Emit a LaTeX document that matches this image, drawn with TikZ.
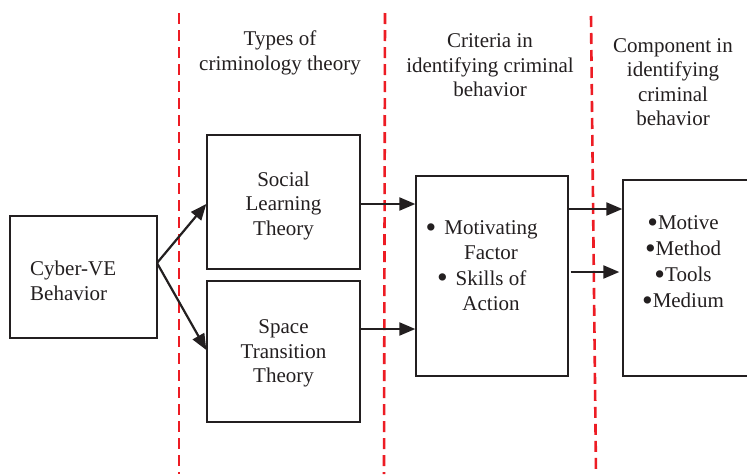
\documentclass[tikz,border=0pt]{standalone}
\usepackage{fontspec}
\setmainfont{Liberation Serif}
\usetikzlibrary{arrows.meta,calc}
\definecolor{redline}{RGB}{237,28,36}
\definecolor{ink}{RGB}{35,31,32}
\newcommand{\bigbul}{\raisebox{-2.6pt}{\scalebox{1.45}{•}}}
\begin{document}
\begin{tikzpicture}[x=1pt,y=-1pt,
  box/.style={draw=ink,line width=1.4pt,minimum width=#1,inner sep=0pt},
  txt/.style={align=center,inner sep=0pt,text=ink,font=\fontsize{21}{24.5}\selectfont},
  arr/.style={draw=ink,line width=2.2pt,-{Triangle[length=16pt,width=13pt]}},
  redd/.style={draw=redline,line width=2.6pt,dash pattern=on 11pt off 6pt}]
\clip (0,0) rectangle (747,474);
\fill[white] (0,0) rectangle (747,474);
% red dashed separators
\draw[redd] (179,13) -- (179,474);
\draw[redd] (385,13) -- (384,474);
\draw[redd] (591,16) -- (596,474);
% headers
\node[txt] (h1) at (280,53) {Types of\\criminology theory};
\node[txt] (h2) at (490,65.5) {Criteria in\\identifying criminal\\behavior};
\node[txt] (h3) at (673,82) {Component in\\identifying\\criminal\\behavior};
% boxes
\node[box=147pt,minimum height=122pt] (cyber) at (83.5,277) {};
\node[txt,align=left,anchor=west] (cybert) at (30,281) {Cyber-VE\\Behavior};
\node[box=153pt,minimum height=134pt] (social) at (283.5,202) {};
\node[txt] (socialt) at (283.5,205.5) {Social\\Learning\\Theory};
\node[box=153pt,minimum height=141pt] (space) at (283.5,351.5) {};
\node[txt] (spacet) at (283.5,353.5) {Space\\Transition\\Theory};
\node[box=152pt,minimum height=200pt] (crit) at (492,276) {};
\node[txt,font=\fontsize{21}{25.3}\selectfont] (critt) at (491,265.5) {\llap{\bigbul\hspace{8pt}}Motivating\\Factor\\\llap{\bigbul\hspace{8pt}}Skills of\\Action};
\node[box=140pt,minimum height=196pt] (comp) at (693,278) {};
\node[txt,font=\fontsize{21}{26}\selectfont] (compt) at (683,263) {\bigbul Motive\\\bigbul Method\\\bigbul Tools\\\bigbul Medium};
% connectors
\coordinate (fork) at (157,263);
\draw[arr] (fork) -- ([yshift=-2pt]social.west);
\draw[arr] (fork) -- ([yshift=1.5pt]space.west);
\draw[arr] ([yshift=-2pt]social.east) -- ([yshift=-2pt]social.east -| crit.west);
\draw[arr] ([yshift=22.5pt]space.east) -- ([yshift=22.5pt]space.east -| crit.west);
\draw[arr] ([yshift=67pt]crit.east) -- ([yshift=67pt]crit.east -| comp.west);
\draw[arr,shorten >=3pt] ([yshift=4pt,xshift=2pt]crit.east) -- ([yshift=4pt]crit.east -| comp.west);
\end{tikzpicture}
\end{document}
